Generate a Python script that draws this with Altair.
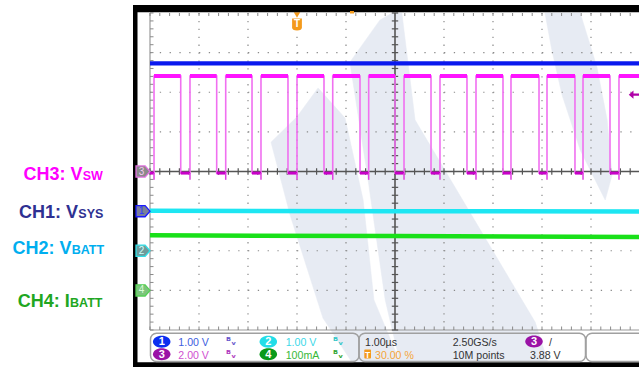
import altair as alt
import pandas as pd

# ---------------- values ----------------
# time axis: µs, 0 = trigger point (30 % of screen), 1.00 µs/div
time_lines = [-3, -2, -1, 0, 1, 2, 3, 4, 5, 6, 7]
amp_lines = [-4, -3, -2, -1, 0, 1, 2, 3, 4]          # divisions

ch_per_div = {"1": 1.0, "2": 1.0, "3": 2.0, "4": 0.1}   # V/div, A/div
ch_offset = {"1": -1.0, "2": -2.0, "3": 0.0, "4": -3.0}  # ground marker (div)

# CH1  V_SYS (V)
vsys_t = [-3.0, 7.0]
vsys_v = [3.73, 3.73]
# CH2  V_BATT (V)
vbatt_t = [-3.0, 2.0, 7.0]
vbatt_v = [1.01, 1.00, 0.99]
# CH4  I_BATT (A)
ibatt_t = [-3.0, 2.0, 7.0]
ibatt_a = [0.139, 0.137, 0.135]
# CH3  V_SW switching node (V), edge times in µs
vsw_rise = [-2.918, -2.184, -1.455, -0.735, 0.0, 0.729, 1.463, 2.184,
            2.918, 3.653, 4.367, 5.102, 5.837, 6.571]
vsw_fall = [-2.373, -1.639, -0.918, -0.184, 0.551, 1.286, 2.000, 2.735,
            3.469, 4.204, 4.939, 5.673, 6.388]
vsw_high = 4.82
vsw_low = -0.08
vsw_undershoot = -0.42
trig_level = 3.88  # V on CH3

# background watermark outlines, in screen divisions (x from left edge, y from centre)
wm_band1_x = [3.43, 3.98, 4.35, 4.57, 5.10, 4.12, 3.53, 2.86, 2.47, 3.00]
wm_band1_y = [2.11, 1.35, -0.72, -3.24, -4.81, -4.81, -3.70, -1.10, 0.74, 1.38]
wm_band2_x = [4.08, 4.69, 4.94, 5.14, 5.41, 7.86, 8.12, 5.10, 4.80, 4.45]
wm_band2_y = [2.76, 3.82, 4.00, 4.00, 1.30, -3.80, -4.81, -4.81, -3.24, -0.21]
wm_arc_x = [8.06, 8.78, 9.12, 9.33, 9.43, 9.29, 8.78, 8.41, 8.20]
wm_arc_y = [4.00, 4.00, 2.64, 1.30, -0.09, -0.72, 0.54, 1.93, 3.07]

# status-bar texts
ch_scale_text = {"1": "1.00 V", "2": "1.00 V", "3": "2.00 V", "4": "100mA"}
timebase_text = "1.00µs"
trig_pos_text = "30.00 %"
rate_text = "2.50GS/s"
points_text = "10M points"
trig_level_text = "3.88 V"

# left-hand labels
lab_main = ["CH3: V", "CH1: V", "CH2: V", "CH4: I"]
lab_sub = ["SW", "SYS", "BATT", "BATT"]

# ---------------- layout / style ----------------
W, H = 489, 317
PX0, PY0 = 150, 13
T0, T1 = -3.0, 7.0 - 1 / 49
xs = alt.Scale(domain=[T0, T1], nice=False, zero=False)
ys = alt.Scale(domain=[-4, 4], nice=False, zero=False)

UI_FONT = "Liberation Sans, Arial, sans-serif"
LAB_FONT = "Liberation Sans, Arial, sans-serif"
UI_SIZE = 10.6

one = pd.DataFrame({"k": [0]})


def px(x):
    return x - PX0


def py(y):
    return y - PY0


def div(vals, ch):
    return [v / ch_per_div[ch] + ch_offset[ch] for v in vals]


def Xq(f="t"):
    return alt.X(f"{f}:Q", scale=xs, axis=None)


def Yq(f="d"):
    return alt.Y(f"{f}:Q", scale=ys, axis=None)


def text_layer(label, x, y, color, size, font=UI_FONT, weight="normal",
               align="left", baseline="alphabetic"):
    return alt.Chart(pd.DataFrame({"label": [label]})).mark_text(
        align=align, baseline=baseline, font=font, fontSize=size,
        fontWeight=weight, color=color
    ).encode(x=alt.value(px(x)), y=alt.value(py(y)), text="label:N")


def box(x0, x1, y0, y1, **kw):
    return alt.Chart(one).mark_rect(**kw).encode(
        x=alt.value(px(x0)), x2=alt.value(px(x1)),
        y=alt.value(py(y0)), y2=alt.value(py(y1)))


ELLIPSE = "M-1,0 A1,0.68 0 1,1 1,0 A1,0.68 0 1,1 -1,0 Z"
PENTA = "M-1,-0.8 L0.3,-0.8 L1,0 L0.3,0.8 L-1,0.8 Z"


def badge(num, x, y, fill, size=17.5):
    s = alt.Chart(one).mark_point(
        shape=ELLIPSE, filled=True, fill=fill, size=size * size,
        opacity=1, strokeWidth=0
    ).encode(x=alt.value(px(x)), y=alt.value(py(y)))
    t = text_layer(num, x, y + 0.5, "white", 11, font="Liberation Sans, sans-serif",
                   weight="bold", align="center", baseline="middle")
    return [s, t]


layers = []

# ---------------- watermark ----------------
wm_rows = []
for name, xsd, ysd in [("a", wm_band1_x, wm_band1_y), ("b", wm_band2_x, wm_band2_y),
                       ("c", wm_arc_x, wm_arc_y)]:
    for i, (a, b) in enumerate(zip(xsd, ysd)):
        wm_rows.append({"poly": name, "o": i, "t": a + T0, "d": b})
    wm_rows.append({"poly": name, "o": len(xsd), "t": xsd[0] + T0, "d": ysd[0]})
wm = pd.DataFrame(wm_rows)
layers.append(alt.Chart(wm).mark_line(fill="#e7ebf3", stroke="#e7ebf3", strokeWidth=0.5,
                                      interpolate="linear").encode(
    x=Xq(), y=Yq(), order="o:Q", detail="poly:N"))

# ---------------- grid ----------------
vgrid = pd.DataFrame({"t": [t for t in time_lines if t not in (-3, 2, 7)]})
layers.append(alt.Chart(vgrid).mark_rule(color="#8a8a8a", strokeWidth=1.2,
                                         strokeDash=[1.3, 6.6]).encode(
    x=Xq(), y=alt.value(0), y2=alt.value(H)))
hgrid = pd.DataFrame({"d": [d for d in amp_lines if d not in (-4, 0, 4)]})
layers.append(alt.Chart(hgrid).mark_rule(color="#8a8a8a", strokeWidth=1.2,
                                         strokeDash=[1.3, 8.5]).encode(
    y=Yq(), x=alt.value(0), x2=alt.value(W)))

minor_t = [T0 + 0.2 * i for i in range(51)]
minor_d = [-4 + 0.2 * i for i in range(41)]

# borders
layers.append(alt.Chart(one).mark_rule(color="#9a9a9a", strokeWidth=1.2).encode(
    x=alt.value(0), y=alt.value(0), y2=alt.value(H)))
layers.append(alt.Chart(one).mark_rule(color="#9a9a9a", strokeWidth=1.2).encode(
    y=alt.value(H), x=alt.value(0), x2=alt.value(W)))
tk = pd.DataFrame({"d": minor_d})
layers.append(alt.Chart(tk).mark_rule(color="#8a8a8a", strokeWidth=1).encode(
    y=Yq(), x=alt.value(0), x2=alt.value(3.5)))
tkx = pd.DataFrame({"t": minor_t})
layers.append(alt.Chart(tkx).mark_rule(color="#8a8a8a", strokeWidth=1).encode(
    x=Xq(), y=alt.value(0), y2=alt.value(3)))
layers.append(alt.Chart(tkx).mark_rule(color="#8a8a8a", strokeWidth=1).encode(
    x=Xq(), y=alt.value(H - 3.5), y2=alt.value(H)))

# centre cross with minor ticks
layers.append(alt.Chart(pd.DataFrame({"t": [2.0]})).mark_rule(
    color="#666666", strokeWidth=1.8).encode(x=Xq(), y=alt.value(0), y2=alt.value(H)))
layers.append(alt.Chart(pd.DataFrame({"d": [0.0]})).mark_rule(
    color="#555555", strokeWidth=1.5).encode(y=Yq(), x=alt.value(0), x2=alt.value(W)))
ctk = pd.DataFrame({"d": minor_d, "a": [1.935] * len(minor_d), "b": [2.065] * len(minor_d)})
layers.append(alt.Chart(ctk).mark_rule(color="#555555", strokeWidth=1.2).encode(
    y=Yq(), x=Xq("a"), x2=alt.X2("b")))
ctkx = pd.DataFrame({"t": minor_t, "a": [-0.08] * len(minor_t), "b": [0.08] * len(minor_t)})
layers.append(alt.Chart(ctkx).mark_rule(color="#555555", strokeWidth=1.2).encode(
    x=Xq(), y=Yq("a"), y2=alt.Y2("b")))

# ---------------- traces ----------------
# CH1 V_SYS
d1 = pd.DataFrame({"t": vsys_t, "d": div(vsys_v, "1")})
layers.append(alt.Chart(d1).mark_line(color="#0a18ee", strokeWidth=4.2).encode(
    x=Xq(), y=Yq()))

# CH3 V_SW
edges = sorted([(t, "r") for t in vsw_rise] + [(t, "f") for t in vsw_fall])
lvl = vsw_low
st, sv = [T0], [lvl]
for t, k in edges:
    st.append(t)
    sv.append(lvl)
    lvl = vsw_high if k == "r" else vsw_low
    st.append(t)
    sv.append(lvl)
st.append(7.0)
sv.append(lvl)
d3 = pd.DataFrame({"t": st, "d": div(sv, "3"), "o": list(range(len(st)))})
layers.append(alt.Chart(d3).mark_line(color="#f070f0", strokeWidth=1.6).encode(
    x=Xq(), y=Yq(), order="o:Q"))

hi_end = vsw_fall + [7.0]
d3h = pd.DataFrame({"t": vsw_rise, "t2": hi_end,
                    "d": div([vsw_high] * len(vsw_rise), "3")})
layers.append(alt.Chart(d3h).mark_rule(color="#ff14ff", strokeWidth=4).encode(
    x=Xq(), x2=alt.X2("t2"), y=Yq()))
lo_start = [T0] + vsw_fall
d3l = pd.DataFrame({"t": lo_start, "t2": vsw_rise,
                    "d": div([vsw_low] * len(vsw_rise), "3")})
layers.append(alt.Chart(d3l).mark_rule(color="#c800c8", strokeWidth=3).encode(
    x=Xq(), x2=alt.X2("t2"), y=Yq()))
d3u = pd.DataFrame({"t": vsw_rise, "d": div([vsw_low] * len(vsw_rise), "3"),
                    "d2": div([vsw_undershoot] * len(vsw_rise), "3")})
layers.append(alt.Chart(d3u).mark_rule(color="#e040e0", strokeWidth=1.5).encode(
    x=Xq(), y=Yq(), y2=alt.Y2("d2")))

# CH2 V_BATT
d2 = pd.DataFrame({"t": vbatt_t, "d": div(vbatt_v, "2")})
layers.append(alt.Chart(d2).mark_line(color="#1de6f2", strokeWidth=4.5).encode(
    x=Xq(), y=Yq()))
# CH4 I_BATT
d4 = pd.DataFrame({"t": ibatt_t, "d": div(ibatt_a, "4")})
layers.append(alt.Chart(d4).mark_line(color="#19e019", strokeWidth=4.5).encode(
    x=Xq(), y=Yq()))

# trigger level marker (right edge) and trigger position marker (top)
TRIG_ARROW = "M-1,0 L-0.1,-0.8 L-0.1,-0.22 L1,-0.22 L1,0.22 L-0.1,0.22 L-0.1,0.8 Z"
layers.append(alt.Chart(pd.DataFrame({"d": div([trig_level], "3")})).mark_point(
    shape=TRIG_ARROW, filled=True, fill="#b000a8", size=110, opacity=1, strokeWidth=0
).encode(x=alt.value(px(634)), y=Yq()))
SHIELD = "M-0.8,-1 L0.8,-1 L0.8,0.5 Q0.8,1 0,1 Q-0.8,1 -0.8,0.5 Z"
tdf = pd.DataFrame({"t": [0.0]})
layers.append(alt.Chart(tdf).mark_point(shape="triangle-down", filled=True,
                                         fill="#f49a1c", size=40, opacity=1,
                                         strokeWidth=0).encode(
    x=Xq(), y=alt.value(py(15))))
layers.append(alt.Chart(tdf).mark_point(shape=SHIELD, filled=True, fill="#f49a1c",
                                         size=150, opacity=1, strokeWidth=0).encode(
    x=Xq(), y=alt.value(py(24.5))))
layers.append(alt.Chart(pd.DataFrame({"t": [0.0], "label": ["T"]})).mark_text(
    font="Liberation Sans, sans-serif", fontSize=10, fontWeight="bold",
    color="white", align="center", baseline="middle").encode(
    x=Xq(), y=alt.value(py(24)), text="label:N"))

# ---------------- frame ----------------
layers.append(box(133, 137.5, 5, 367, fill="#000000"))
layers.append(box(133, 639, 5, 12.3, fill="#000000"))
layers.append(box(133, 639, 362.3, 367, fill="#000000"))
layers.append(box(350, 354, 11, 13.5, fill="#f49a1c"))

# channel ground markers on the left border
marker_style = {
    "3": ("#8a8a8a", "#e070e0", "#f4c8f4"),
    "1": ("#7a7f9a", "#1a1aff", "#2a3aff"),
    "2": ("#6f9a9a", "#30e0e8", "#c8ffff"),
    "4": ("#7cc47c", "#55d055", "#d8ffd8"),
}
for ch, (fill, stroke, tc) in marker_style.items():
    mdf = pd.DataFrame({"d": [ch_offset[ch]], "label": [ch]})
    layers.append(alt.Chart(mdf).mark_point(
        shape=PENTA, filled=True, fill=fill, stroke=stroke, strokeWidth=1.3,
        size=196, opacity=1).encode(x=alt.value(px(143)), y=Yq()))
    layers.append(alt.Chart(mdf).mark_text(
        font="Liberation Sans, sans-serif", fontSize=10, color=tc,
        align="center", baseline="middle", dx=-1.5).encode(
        x=alt.value(px(143)), y=Yq(), text="label:N"))

# ---------------- left labels ----------------
lab_colors = ["#ff00ff", "#2e3192", "#00aeef", "#21a621"]
sub_x = [82.7, 78.3, 71.7, 70.0]
lab_base = [180.0, 218.3, 254.0, 306.7]
for m, s, c, x1, yb in zip(lab_main, lab_sub, lab_colors, sub_x, lab_base):
    layers.append(text_layer(m, x1 - 0.3, yb, c, 18, font=LAB_FONT, weight="bold",
                             align="right"))
    layers.append(text_layer(s, x1, yb, c, 12.5, font=LAB_FONT, weight="bold"))

# ---------------- status bar ----------------
BOX = dict(fill="#ffffff", fillOpacity=0, stroke="#a0a0a0", strokeWidth=1.5, cornerRadius=6)
layers.append(box(150.5, 359, 333.3, 361.5, **BOX))
layers.append(box(359, 585.5, 333.3, 361.5, **BOX))
layers.append(box(586, 650, 333.3, 361.5, **BOX))

R1, R2 = 346.0, 359.0
layers += badge("1", 161.7, 341.7, "#0b2ef0")
layers += badge("3", 161.7, 354.3, "#9a12a6")
layers += badge("2", 268.3, 341.7, "#22dde8")
layers += badge("4", 268.3, 354.3, "#0a9a1a")
layers.append(text_layer(ch_scale_text["1"], 178.3, R1, "#4060e0", UI_SIZE))
layers.append(text_layer(ch_scale_text["3"], 178.3, R2, "#d050d0", UI_SIZE))
layers.append(text_layer(ch_scale_text["2"], 285.7, R1, "#40d8e8", UI_SIZE))
layers.append(text_layer(ch_scale_text["4"], 285.7, R2, "#38b838", UI_SIZE))
ICON = "ᴮᵥ"
for ix, iy, ic in [(226, R1 - 1, "#6a5acd"), (226, R2 - 1, "#b040c0"),
                   (333, R1 - 1, "#38c8c8"), (333, R2 - 1, "#38a838")]:
    layers.append(text_layer(ICON, ix, iy, ic, 10.5, font="DejaVu Sans", weight="bold"))

layers.append(text_layer(timebase_text, 365, R1, "#333333", UI_SIZE))
layers.append(box(364.3, 371, 349.5, 358.5, fill="#f49a1c", cornerRadius=1))
layers.append(text_layer("T", 367.7, 357.6, "white", 8.5, font="Liberation Sans, sans-serif",
                         weight="bold", align="center"))
layers.append(text_layer(trig_pos_text, 375, R2, "#f5a53a", UI_SIZE))
layers.append(text_layer(rate_text, 452.7, R1, "#333333", UI_SIZE))
layers.append(text_layer(points_text, 452.7, R2, "#333333", UI_SIZE))
layers += badge("3", 534, 341.5, "#9a12a6")
layers.append(text_layer("/", 549, R1, "#333333", UI_SIZE))
layers.append(text_layer(trig_level_text, 530, R2, "#333333", UI_SIZE))

chart = alt.layer(*layers).properties(
    width=W, height=H,
    autosize=alt.AutoSizeParams(type="none"),
    padding={"left": PX0, "top": PY0, "right": 0, "bottom": 367 - PY0 - H},
    background="white",
).configure_view(stroke=None)

chart.save("out.html", embed_options={"renderer": "svg", "actions": False})
